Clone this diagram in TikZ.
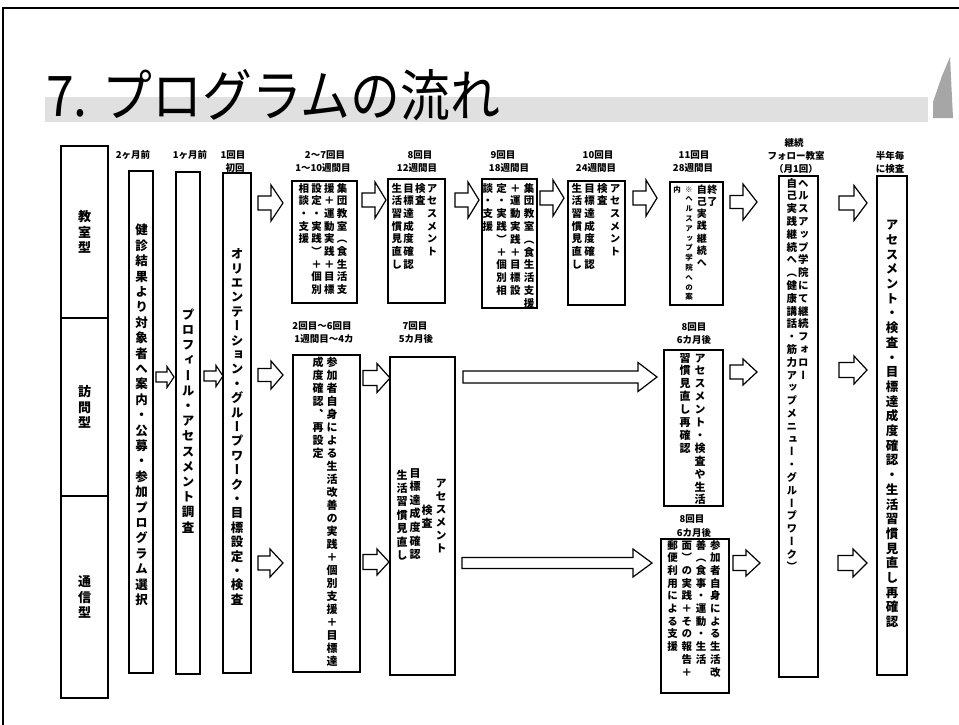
\documentclass[tikz,border=0pt]{standalone}
\usepackage{fontspec}
\usepackage{graphicx}
\newfontfamily\jpv{Noto Sans CJK JP}[RawFeature=+vert]
\newfontfamily\jph{Noto Sans CJK JP}
\newlength\vtp \newlength\vtw
\newcommand\vt[1]{\vtop{\baselineskip=\vtp\lineskip=0pt\lineskiplimit=-\maxdimen\vtloop#1\relax}}
\def\vtloop#1{\ifx\relax#1\else\hbox to\vtw{\hss#1\hss}\expandafter\vtloop\fi}
\newcommand\vset[3]{\jpv\bfseries\fontsize{#1}{#1}\selectfont\setlength\vtp{#2pt}\setlength\vtw{#3pt}}
\tikzset{
  box/.style={draw=black, line width=1.4pt, fill=white, inner sep=0pt},
  arr/.style={draw=black, line width=1.2pt, fill=white, line join=miter},
  vtx/.style n args={3}{inner sep=0pt, font={\vset{#1}{#2}{#3}}},
  hd/.style={inner sep=0pt, font=\jph\bfseries\fontsize{9.5}{10}\selectfont},
}
\newcommand\bx[5]{\node[box, minimum width={#4-#2}, minimum height={#5-#3}] (#1) at ({(#2+#4)/2},{(#3+#5)/2}) {};}
\newcommand\barrow[6]{\draw[arr] (#1,{#3-#4}) -- ({#2-#6},{#3-#4}) -- ({#2-#6},{#3-#5}) -- (#2,#3) -- ({#2-#6},{#3+#5}) -- ({#2-#6},{#3+#4}) -- (#1,{#3+#4}) -- cycle;}
\begin{document}
\begin{tikzpicture}[x=1pt,y=-1pt]
\useasboundingbox (0,0) rectangle (959,725);
\fill[white] (0,0) rectangle (959,725);
% frame
\draw[line width=1.2pt] (3,725) -- (3,8) -- (959,8);
% title band and decoration
\fill[black!12] (45,97) rectangle (928,122);
\fill[black!35] (933,102) -- (942,76) -- (950,57) -- (953,118) -- (933,118) -- cycle;
\node[anchor=base west, inner sep=0pt] (title) at (46,117) {\jph\fontsize{56}{56}\selectfont\scalebox{0.89}[1]{7. プログラムの流れ}};

% left category column
\bx{L1}{61}{146}{108}{318}
\bx{L2}{61}{318}{108}{496}
\bx{L3}{61}{496}{108}{698}
\node[vtx={13}{15.5}{15}] (l1) at (L1.center) {\vt{教室型}};
\node[vtx={13}{15.5}{15}] (l2) at (L2.center) {\vt{訪問型}};
\node[vtx={13}{15.5}{15}] (l3) at (L3.center) {\vt{通信型}};

% headers
\node[hd] (h1) at (133,155) {2ヶ月前};
\node[hd] (h2) at (190,155) {1ヶ月前};
\node[hd] (h3) at (233,155) {1回目};
\node[hd] (h3b) at (235,168) {初回};
\node[hd] (h4) at (325,155) {2〜7回目};
\node[hd] (h4b) at (323,168) {1〜10週間目};
\node[hd] (h5) at (420,155) {8回目};
\node[hd] (h5b) at (417,168) {12週間目};
\node[hd] (h6) at (503,155) {9回目};
\node[hd] (h6b) at (509,168) {18週間目};
\node[hd] (h7) at (598,155) {10回目};
\node[hd] (h7b) at (596,168) {24週間目};
\node[hd] (h8) at (694,155) {11回目};
\node[hd] (h8b) at (693,168) {28週間目};
\node[hd] (h9) at (794,143) {継続};
\node[hd] (h9b) at (796,156) {フォロー教室};
\node[hd] (h9c) at (796,169) {（月1回）};
\node[hd] (h10) at (890,156) {半年毎};
\node[hd] (h10b) at (890,169) {に検査};
\node[hd] (h11) at (322,326) {2回目〜6回目};
\node[hd] (h11b) at (324,339) {1週間目〜4カ};
\node[hd] (h12) at (415,326) {7回目};
\node[hd] (h12b) at (416,339) {5カ月後};
\node[hd] (h13) at (694,327) {8回目};
\node[hd] (h13b) at (694,340) {6カ月後};
\node[hd] (h14) at (692,519) {8回目};
\node[hd] (h14b) at (694,533) {6カ月後};

% tall boxes
\bx{A}{129}{171}{153}{673}
\bx{B}{176}{172}{200}{674}
\bx{C}{223}{173}{251}{673}
\node[vtx={12.5}{15.4}{14}] (ta) at (141.5,415) {\vt{健診結果より対象者へ案内・公募・参加プログラム選択}};
\node[vtx={12.5}{15.2}{14}] (tb) at (188,421) {\vt{プロフィール・アセスメント調査}};
\node[vtx={12.5}{14.4}{14}] (tc) at (237,427) {\vt{オリエンテーション・グループワーク・目標設定・検査}};

% top row boxes
\bx{T2}{292}{181}{357}{303}
\node[vtx={10.5}{12.7}{12.7}, anchor=base] (tt2) at (323,192) {\vt{相談・支援}\vt{設定・実践）＋個別}\vt{援＋運動実践＋目標}\vt{集団教室（食生活支}};
\bx{T3}{388}{179}{445}{303}
\node[vtx={10.5}{12.7}{11.7}, anchor=base] (tt3) at (414.5,192) {\vt{生活習慣見直し}\vt{目標達成度確認}\vt{検査}\vt{アセスメント}};
\bx{T4}{482}{179}{537}{308}
\node[vtx={10.5}{12.8}{13.7}, anchor=base] (tt4) at (508.5,192) {\vt{談・支援}\vt{定・実践）＋個別相}\vt{＋運動実践＋目標設}\vt{集団教室（食生活支援}};
\bx{T5}{568}{181}{625}{305}
\node[vtx={10.5}{12.7}{12.7}, anchor=base] (tt5) at (596,192) {\vt{生活習慣見直し}\vt{目標達成度確認}\vt{検査}\vt{アセスメント}};
\bx{T6}{670}{182}{723}{305}
\node[vtx={10}{12.3}{10.5}, anchor=base] (tt6) at (707,193) {\vt{自己実践継続へ}\vt{終了}};
\node[vtx={7.5}{9.8}{12}, anchor=base] (tt6s) at (683,192) {\vt{内}\vt{※ヘルスアップ学院への案}};

% follow-up and half-year boxes
\bx{K7}{779}{176}{818}{677}
\node[vtx={10.5}{12.8}{11.5}, anchor=base] (tk7) at (797.5,187) {\vt{自己実践継続へ（健康講話・筋力アップメニュー・グループワーク）}\vt{ヘルスアップ学院にて継続フォロー}};
\bx{K8}{877}{176}{907}{675}
\node[vtx={12.5}{14.7}{14}] (tk8) at (892,424) {\vt{アセスメント・検査・目標達成度確認・生活習慣見直し再確認}};

% middle / bottom boxes
\bx{M2}{293}{355}{360}{672}
\node[vtx={11}{13}{14}, anchor=base] (tm2) at (325,366) {\vt{成度確認、再設定}\vt{参加者自身による生活改善の実践＋個別支援＋目標達}};
\bx{M7}{390}{357}{455}{675}
\node[vtx={11}{13}{13}, anchor=base] (tm7a) at (441,487) {\vt{アセスメント}};
\node[vtx={11}{13}{13}, anchor=base] (tm7b) at (427,514) {\vt{検査}};
\node[vtx={11}{13.6}{13}, anchor=base] (tm7c) at (415,477) {\vt{目標達成度確認}};
\node[vtx={11}{13.4}{13}, anchor=base] (tm7d) at (402,479) {\vt{生活習慣見直し}};
\bx{M8}{664}{350}{723}{506}
\node[vtx={11}{12.9}{15}, anchor=base] (tm8) at (692.5,362) {\vt{習慣見直し再確認}\vt{アセスメント・検査や生活}};
\bx{B8}{661}{539}{729}{693}
\node[vtx={10.5}{12.7}{14.3}, anchor=base] (tb8) at (694,549) {\vt{郵便利用による支援}\vt{面）の実践＋その報告＋}\vt{善（食事・運動・生活}\vt{参加者自身による生活改}};

% block arrows
\barrow{156}{174}{377}{5}{10.5}{7}
\barrow{204}{223}{376}{5}{10.5}{7}
\barrow{258}{283}{203}{7}{18}{12}
\barrow{258}{283}{375}{6.5}{14}{12}
\barrow{258}{283}{563}{7}{14}{13}
\barrow{362}{386}{200}{7}{18}{11}
\barrow{455}{479}{200}{7}{18}{11}
\barrow{540}{564}{198}{7}{18}{11}
\barrow{633}{657}{198}{7}{18}{11}
\barrow{730}{757}{202}{6.5}{18}{14}
\barrow{839}{867}{203}{7}{17.5}{13}
\barrow{363}{390}{378}{7.5}{14.5}{13}
\barrow{363}{389}{562}{7.5}{13}{12}
\barrow{463}{657}{377}{6}{14.5}{19}
\barrow{462}{652}{563}{5.5}{14}{19}
\barrow{730}{757}{372}{7}{13}{14}
\barrow{839}{867}{370}{7.5}{14}{13}
\barrow{733}{760}{563}{7.5}{13}{14}
\barrow{838}{867}{563}{7.5}{14}{14}
\end{tikzpicture}
\end{document}
